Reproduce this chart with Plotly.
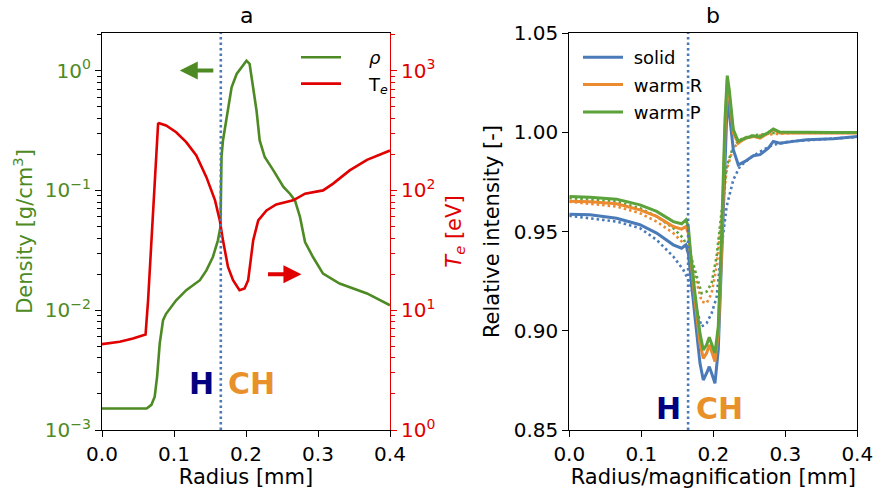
import numpy as np
import plotly.graph_objects as go

# ---------------- data: panel a ----------------
rho_x = [0, 0.062, 0.0686, 0.0732, 0.0765, 0.0802, 0.0848, 0.089, 0.103, 0.117, 0.136, 0.145,
         0.154, 0.161, 0.1645, 0.166, 0.168, 0.173, 0.180, 0.187, 0.194, 0.2007, 0.205, 0.21,
         0.2146, 0.219, 0.226, 0.238, 0.252, 0.261, 0.268, 0.275, 0.282, 0.293, 0.307, 0.330,
         0.368, 0.4]
rho_v = [0.00151, 0.00151, 0.00162, 0.0019, 0.00278, 0.00528, 0.00826, 0.00933, 0.0121, 0.0147,
         0.0178, 0.0215, 0.0278, 0.0383, 0.0494, 0.190, 0.261, 0.408, 0.726, 0.938, 1.067, 1.21,
         1.14, 0.726, 0.465, 0.261, 0.190, 0.147, 0.107, 0.0938, 0.0826, 0.060, 0.0371, 0.0278,
         0.0202, 0.0167, 0.0138, 0.0110]

te_x = [0, 0.0246, 0.043, 0.0605, 0.064, 0.0779, 0.0793, 0.089, 0.103, 0.117, 0.131, 0.145,
        0.157, 0.1636, 0.168, 0.175, 0.182, 0.191, 0.198, 0.203, 0.21, 0.217, 0.2285, 0.242,
        0.2656, 0.282, 0.307, 0.321, 0.344, 0.368, 0.4]
te_v = [5.21, 5.45, 5.81, 6.27, 12.1, 360, 364, 348, 306, 253, 196, 129, 82.6, 56.2, 38.3, 23.0,
        17.8, 14.7, 15.2, 17.8, 38.3, 56.2, 68.1, 76.4, 82.6, 93.8, 100, 114, 147, 180, 215]

# ---------------- data: panel b ----------------
sol_x = [0, 0.0287, 0.0657, 0.0981, 0.1213, 0.1444, 0.156, 0.162, 0.1653, 0.1685, 0.1745,
         0.1815, 0.1861, 0.1907, 0.1944, 0.1977, 0.2023, 0.2069, 0.2116, 0.2162, 0.2194, 0.2222,
         0.2278, 0.2347, 0.244, 0.2556, 0.2648, 0.2764, 0.2833, 0.2926, 0.3111, 0.3296, 0.3667, 0.4]
solid_v = [0.9587, 0.9584, 0.9567, 0.9534, 0.9492, 0.9433, 0.9416, 0.9433, 0.9391, 0.9273, 0.9071,
           0.8836, 0.8752, 0.8786, 0.8819, 0.8786, 0.8735, 0.8903, 0.9324, 0.9828, 1.0164, 1.0097,
           0.9912, 0.9836, 0.9853, 0.9882, 0.9887, 0.9920, 0.9954, 0.9945, 0.9954, 0.9962, 0.9967, 0.9979]
warmR_v = [0.9653, 0.965, 0.964, 0.9609, 0.9576, 0.9525, 0.9512, 0.9525, 0.9492, 0.9374, 0.9156,
           0.8937, 0.8861, 0.8887, 0.8929, 0.8895, 0.8845, 0.8987, 0.9408, 0.9996, 1.0265, 1.0181,
           0.9996, 0.9945, 0.997, 0.9979, 0.997, 0.9996, 1.0013, 0.9996, 0.9996, 0.9996, 0.9996, 0.9996]
warmP_v = [0.9676, 0.9673, 0.9663, 0.9634, 0.9601, 0.955, 0.9539, 0.9559, 0.9525, 0.9391, 0.9189,
           0.8987, 0.8903, 0.8929, 0.8967, 0.8929, 0.8887, 0.9021, 0.9492, 1.0063, 1.0285, 1.0214,
           1.0013, 0.9954, 0.997, 0.9982, 0.9976, 0.9999, 1.0016, 1.0001, 1.0, 0.9999, 0.9999, 0.9999]

dot_x = [0, 0.0657, 0.0981, 0.1213, 0.1444, 0.1583, 0.1676, 0.1769, 0.1838, 0.1907, 0.1977,
         0.2046, 0.2116, 0.2185, 0.2278, 0.2370, 0.2509, 0.2694, 0.2833, 0.3065, 0.4]
solid_dot = [0.9579, 0.955, 0.9517, 0.9458, 0.9374, 0.9307, 0.924, 0.9105, 0.9021, 0.9038, 0.9088,
             0.9170, 0.9424, 0.9626, 0.9761, 0.9828, 0.987, 0.9912, 0.9937, 0.9954, 0.9976]
warmR_dot = [0.965, 0.9626, 0.9592, 0.955, 0.9492, 0.9441, 0.9374, 0.924, 0.9147, 0.9139, 0.9189,
             0.9324, 0.9576, 0.9811, 0.992, 0.9954, 0.9976, 0.9987, 0.999, 0.9996, 0.9996]
warmP_dot = [0.9668, 0.9651, 0.9617, 0.9576, 0.9517, 0.9466, 0.9391, 0.9273, 0.9189, 0.9197, 0.924,
             0.9374, 0.9609, 0.9828, 0.9929, 0.9962, 0.9982, 0.999, 0.9996, 1.0, 1.0]

interface_x = 0.165
x_ticks = [0.0, 0.1, 0.2, 0.3, 0.4]
rho_ticks = [1e-3, 1e-2, 1e-1, 1e0]
rho_ticktext = ["10<sup>\u22123</sup>", "10<sup>\u22122</sup>", "10<sup>\u22121</sup>", "10<sup>0</sup>"]
te_ticks = [1, 10, 100, 1000]
te_ticktext = ["10<sup>0</sup>", "10<sup>1</sup>", "10<sup>2</sup>", "10<sup>3</sup>"]
int_ticks = [0.85, 0.90, 0.95, 1.00, 1.05]
series_names = ["solid", "warm R", "warm P"]

# ---------------- style ----------------
FONT = "DejaVu Sans"
GREEN = "#4d8a24"
RED = "#e00000"
BLUE = "#4a7ab8"
ORANGE = "#eb8a2f"
LGREEN = "#5ba23a"
NAVY = "#000080"
CHOR = "#e8912a"
TICKF = 20
LABF = 21
NB_A = "\u00a0\u00a0\u00a0\u00a0"
NB_B = "\u00a0"

W, H = 875, 489
def px(x):
    return x / W
def py(y):
    return 1 - y / H

dom_a = [px(102), px(390)]
dom_b = [px(569.3), px(857.3)]
dom_y = [py(430), py(33)]

fig = go.Figure()

fig.add_trace(go.Scatter(x=rho_x, y=rho_v, mode="lines", name=NB_A + "<i>\u03c1</i>",
                         line=dict(color=GREEN, width=2.6), xaxis="x", yaxis="y",
                         legend="legend"))
fig.add_trace(go.Scatter(x=te_x, y=te_v, mode="lines", name=NB_A + "T<sub><i>e</i></sub>",
                         line=dict(color=RED, width=2.6), xaxis="x", yaxis="y2",
                         legend="legend"))

series = list(zip([solid_v, warmR_v, warmP_v], [solid_dot, warmR_dot, warmP_dot],
                  [BLUE, ORANGE, LGREEN], series_names))
for vals, dvals, col, nm in series:
    fig.add_trace(go.Scatter(x=dot_x, y=dvals, mode="lines", showlegend=False,
                             line=dict(color=col, width=2.6, dash="2.5px,3px"),
                             xaxis="x2", yaxis="y3"))
for vals, dvals, col, nm in series:
    fig.add_trace(go.Scatter(x=sol_x, y=vals, mode="lines", name=NB_B + nm,
                             line=dict(color=col, width=3), xaxis="x2", yaxis="y3",
                             legend="legend2", legendgroup=nm))

# interface lines
for xr, yr in [("x", "y"), ("x2", "y3")]:
    fig.add_shape(type="line", xref=xr, yref=yr + " domain", x0=interface_x, x1=interface_x,
                  y0=0, y1=1, line=dict(color=BLUE, width=2.6, dash="2.5px,3px"))

axis_common = dict(showgrid=False, zeroline=False, showline=True, linecolor="black",
                   linewidth=1.2, ticks="outside", ticklen=6, tickwidth=1.2, tickcolor="black",
                   automargin=False)

fig.update_layout(
    width=W, height=H, margin=dict(l=0, r=0, t=0, b=0, autoexpand=False),
    paper_bgcolor="white", plot_bgcolor="white",
    font=dict(family=FONT, size=TICKF, color="black"),
    xaxis=dict(domain=dom_a, anchor="y", range=[0, 0.4], tickvals=x_ticks, tickformat=".1f",
               mirror=True, title=dict(text="Radius [mm]", font=dict(size=LABF), standoff=2),
               **axis_common),
    yaxis=dict(domain=dom_y, anchor="x", type="log", range=[-3, np.log10(2.06)],
               tickvals=rho_ticks, ticktext=rho_ticktext, tickfont=dict(color=GREEN),
               minor=dict(tickvals=[m * 10.0 ** e for e in range(-3, 1) for m in range(2, 10)
                                    if m * 10.0 ** e < 2.06],
                          ticks="outside", ticklen=3.5, tickwidth=1, tickcolor="black"),
               title=dict(text="Density [g/cm<sup>3</sup>]", font=dict(size=LABF, color=GREEN),
                          standoff=6),
               **axis_common),
    yaxis2=dict(overlaying="y", anchor="x", side="right", type="log", range=[0, np.log10(2060)],
                tickvals=te_ticks, ticktext=te_ticktext, tickfont=dict(color=RED),
                showgrid=False, zeroline=False, showline=True, linecolor=RED, linewidth=1.2,
                ticks="outside", ticklen=6, tickwidth=1.2, tickcolor=RED, automargin=False,
                minor=dict(tickvals=[m * 10.0 ** e for e in range(0, 4) for m in range(2, 10)
                                     if m * 10.0 ** e < 2060],
                           ticks="outside", ticklen=3.5, tickwidth=1, tickcolor=RED),
                title=dict(text="<i>T<sub>e</sub></i> [eV]", font=dict(size=LABF, color=RED),
                           standoff=11)),
    xaxis2=dict(domain=dom_b, anchor="y3", range=[0, 0.4], tickvals=x_ticks, tickformat=".1f",
                mirror=True,
                title=dict(text="Radius/magnification [mm]", font=dict(size=LABF), standoff=2),
                **axis_common),
    yaxis3=dict(domain=dom_y, anchor="x2", range=[0.85, 1.05], tickvals=int_ticks,
                tickformat=".2f", mirror=True,
                title=dict(text="Relative intensity [-]", font=dict(size=LABF), standoff=8),
                **axis_common),
    legend=dict(x=px(296), y=py(39), xanchor="left", yanchor="top", bgcolor="rgba(0,0,0,0)",
                font=dict(size=18), itemwidth=40, tracegroupgap=0),
    legend2=dict(x=px(578), y=py(39), xanchor="left", yanchor="top", bgcolor="rgba(0,0,0,0)",
                 font=dict(size=18), itemwidth=40, tracegroupgap=1, traceorder="grouped"),
)

# titles
fig.add_annotation(text="a", xref="x domain", yref="paper", x=0.5, y=py(16), showarrow=False,
                   font=dict(size=22), xanchor="center", yanchor="middle")
fig.add_annotation(text="b", xref="x2 domain", yref="paper", x=0.5, y=py(16), showarrow=False,
                   font=dict(size=22), xanchor="center", yanchor="middle")

# H / CH labels
h_x, ch_x = 0.1383, 0.2083
fig.add_annotation(text="<b>H</b>", xref="x", yref="y", x=h_x, y=np.log10(0.00246),
                   showarrow=False, font=dict(size=30, color=NAVY))
fig.add_annotation(text="<b>CH</b>", xref="x", yref="y", x=ch_x, y=np.log10(0.00246),
                   showarrow=False, font=dict(size=30, color=CHOR))
fig.add_annotation(text="<b>H</b>", xref="x2", yref="y3", x=h_x, y=0.8606,
                   showarrow=False, font=dict(size=30, color=NAVY))
fig.add_annotation(text="<b>CH</b>", xref="x2", yref="y3", x=ch_x, y=0.8606,
                   showarrow=False, font=dict(size=30, color=CHOR))

# arrows
fig.add_annotation(text="", xref="x", yref="y", axref="x", ayref="y",
                   x=0.108, y=0, ax=0.1567, ay=0, showarrow=True,
                   arrowhead=2, arrowsize=0.9, arrowwidth=4, arrowcolor=GREEN)
fig.add_annotation(text="", xref="x", yref="y2", axref="x", ayref="y2",
                   x=0.277, y=np.log10(20), ax=0.2285, ay=np.log10(20), showarrow=True,
                   arrowhead=2, arrowsize=0.9, arrowwidth=4, arrowcolor=RED)

fig.write_html("out.html")
